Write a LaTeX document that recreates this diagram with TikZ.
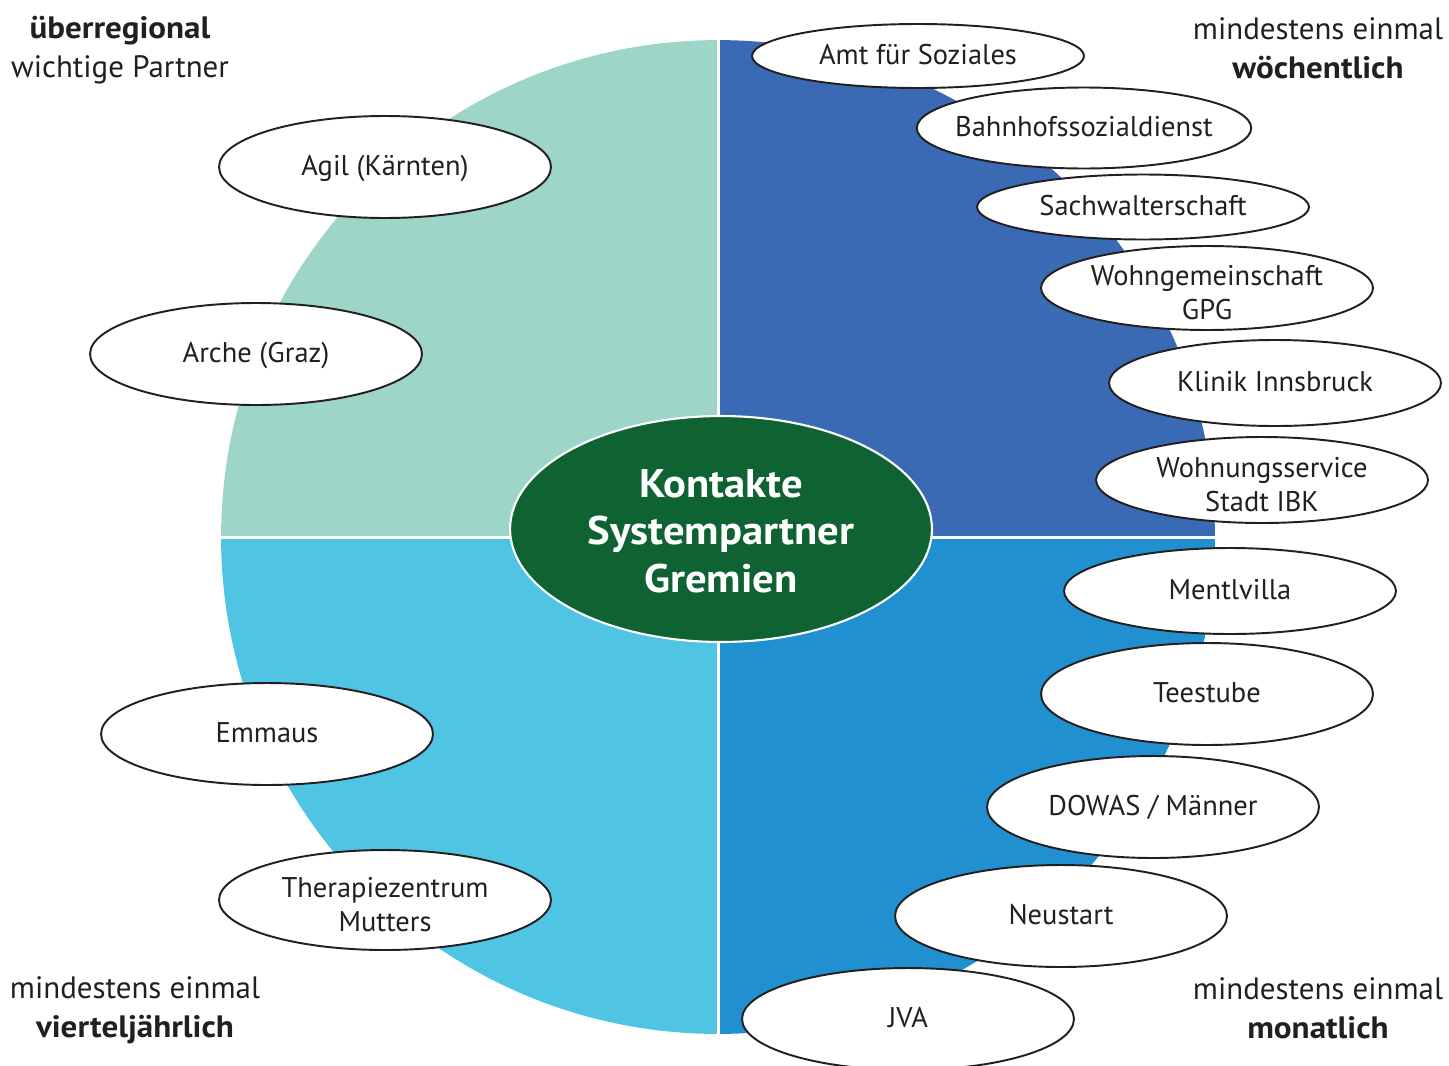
\documentclass[tikz,border=0pt]{standalone}
\usepackage{fontspec}
\setmainfont{PT Sans}[BoldFeatures={FakeStretch=1.07}]
\usetikzlibrary{shapes.geometric}
\definecolor{mytext}{RGB}{35,31,32}
\definecolor{myteal}{RGB}{157,213,201}
\definecolor{mydarkblue}{RGB}{58,106,180}
\definecolor{mylightblue}{RGB}{79,196,227}
\definecolor{mymidblue}{RGB}{33,144,208}
\definecolor{mygreen}{RGB}{15,99,51}

\begin{document}
\begin{tikzpicture}[x=0.02cm, y=-0.02cm,
	partner/.style={shape=ellipse, draw=mytext, fill=white, line width=1.1pt, inner ysep=0pt, inner xsep=-6pt,
		minimum width=6.64cm, align=center, text=mytext, font=\fontsize{16.2}{19.2}\selectfont,
		text height=10.2pt, text depth=0pt},
	twolines/.style={text height=36pt, text depth=0pt, inner ysep=-12pt},
	freq/.style={align=center, text=mytext, font=\fontsize{17.6}{22}\selectfont}]
	\useasboundingbox (0,0) rectangle (1449,1065);
	
	% the four quarters
	\begin{scope}
		\clip (718,537) circle[radius=9.94cm];
		\fill[myteal] (200,20) rectangle (718,537);
		\fill[mydarkblue] (718,20) rectangle (1240,537);
		\fill[mylightblue] (200,537) rectangle (718,1060);
		\fill[mymidblue] (718,537) rectangle (1240,1060);
	\end{scope}
	\draw[white, line width=1.7pt] (718,30) -- (718,1045);
	\draw[white, line width=1.7pt] (210,537) -- (1225,537);
	
	\node[shape=ellipse, fill=mygreen, draw=white, line width=1.2pt, inner sep=0pt,
		minimum width=8.44cm, minimum height=4.52cm, align=center, text=white,
		text height=72.8pt, text depth=0pt,
		font=\fontsize{22.7}{27.3}\selectfont\bfseries] (kern) at (721,529)
		{Kontakte\\Systempartner\\Gremien};
	
	% weekly
	\node[partner, minimum height=1.28cm] (amt) at (918,56) {Amt für Soziales};
	\node[partner, minimum height=1.62cm] (bahnhof) at (1084,128) {Bahnhofssozialdienst};
	\node[partner, minimum height=1.3cm] (sachwalter) at (1143,207) {Sachwalterschaft};
	\node[partner, twolines, minimum height=1.68cm] (wg) at (1207,288) {Wohngemeinschaft\\GPG};
	\node[partner, minimum height=1.72cm] (klinik) at (1275,383) {Klinik Innsbruck};
	\node[partner, twolines, minimum height=1.72cm] (wohnung) at (1262,480) {Wohnungsservice\\Stadt IBK};
	
	% monthly
	\node[partner, minimum height=1.72cm] (mentl) at (1230,591) {Mentlvilla};
	\node[partner, minimum height=2.04cm] (tee) at (1207,694) {Teestube};
	\node[partner, minimum height=2.04cm] (dowas) at (1153,807) {DOWAS / Männer};
	\node[partner, minimum height=2.04cm] (neustart) at (1061,916) {Neustart};
	\node[partner, minimum height=2.04cm] (jva) at (908,1019) {JVA};
	
	% supraregional and quarterly
	\node[partner, minimum height=2.04cm] (agil) at (385,167) {Agil (Kärnten)};
	\node[partner, minimum height=2.04cm] (arche) at (256,354) {Arche (Graz)};
	\node[partner, minimum height=2.04cm] (emmaus) at (267,734) {Emmaus};
	\node[partner, twolines, minimum height=2.0cm] (thera) at (385,900) {Therapiezentrum\\Mutters};
	
	\node[freq] (ueber) at (120,50) {\textbf{überregional}\\wichtige Partner};
	\node[freq] (woche) at (1318,48) {mindestens einmal\\\textbf{wöchentlich}};
	\node[freq] (viertel) at (135,1010) {mindestens einmal\\\textbf{vierteljährlich}};
	\node[freq] (monat) at (1318,1008) {mindestens einmal\\\textbf{monatlich}};
\end{tikzpicture}
\end{document}
